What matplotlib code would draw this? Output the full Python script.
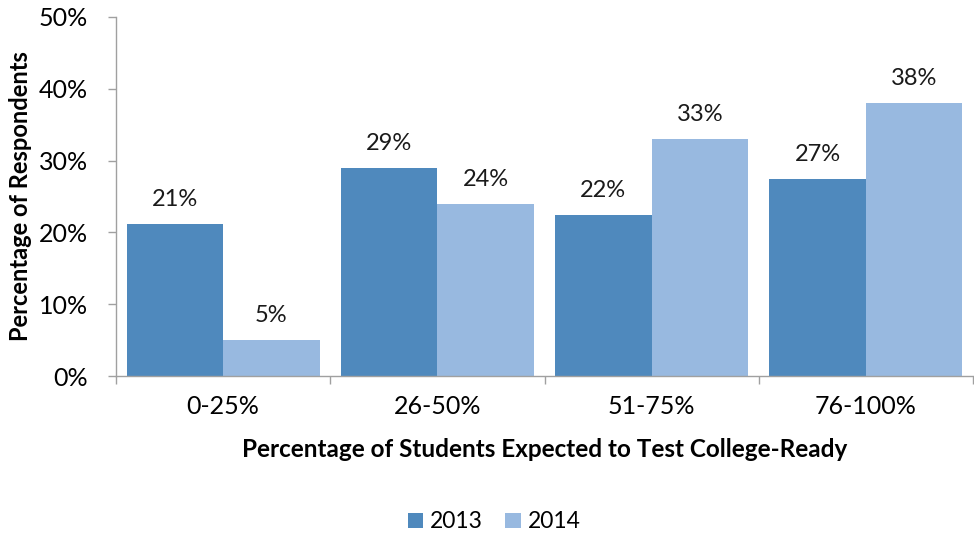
import matplotlib
matplotlib.use("Agg")
import matplotlib.pyplot as plt
import numpy as np

categories = ["0-25%", "26-50%", "51-75%", "76-100%"]
values_2013 = [21.2, 29.0, 22.4, 27.4]
values_2014 = [5.0, 24.0, 33.0, 38.0]
labels_2013 = ["21%", "29%", "22%", "27%"]
labels_2014 = ["5%", "24%", "33%", "38%"]
yticks = [0, 10, 20, 30, 40, 50]

plt.rcParams['font.family'] = ['Lato', 'DejaVu Sans']

c13 = "#4F89BD"
c14 = "#98B9E0"

fig = plt.figure(figsize=(9.74, 5.35), dpi=100)
ax = fig.add_axes([116/974, 1-376/535, (973-116)/974, (376-17)/535])

x = np.arange(len(categories))
w = 0.45
b1 = ax.bar(x - w/2, values_2013, width=w, color=c13, label="2013")
b2 = ax.bar(x + w/2, values_2014, width=w, color=c14, label="2014")

for bars, labs in ((b1, labels_2013), (b2, labels_2014)):
    for r, t in zip(bars, labs):
        ax.annotate(t, (r.get_x() + r.get_width()/2, r.get_height()),
                    xytext=(0, 10), textcoords="offset points",
                    ha="center", va="bottom", fontsize=17, color="#1a1a1a")

ax.set_xlim(-0.5, len(categories) - 0.5)
ax.set_ylim(0, 50)
ax.set_yticks(yticks)
ax.set_yticklabels([f"{v}%" for v in yticks], fontsize=18)
ax.set_xticks(x)
ax.set_xticklabels(categories, fontsize=18)
ax.set_xticks(np.arange(len(categories) + 1) - 0.5, minor=True)
ax.tick_params(axis="x", which="major", length=0, pad=14)
ax.tick_params(axis="x", which="minor", length=6, color="#A0A0A0", width=1)
ax.tick_params(axis="y", length=6, color="#A0A0A0", width=1, pad=14)

for s in ("top", "right"):
    ax.spines[s].set_visible(False)
for s in ("left", "bottom"):
    ax.spines[s].set_color("#A0A0A0")
    ax.spines[s].set_linewidth(1)

ax.set_ylabel("Percentage of Respondents", fontsize=17, fontweight="bold", labelpad=5)
ax.set_xlabel("Percentage of Students Expected to Test College-Ready", fontsize=17.5,
              fontweight="bold", labelpad=14)

fig.legend(handles=[b1, b2], labels=["2013", "2014"], loc="center",
           bbox_to_anchor=(494/974, 1-522/535), ncol=2, frameon=False,
           fontsize=16.5, handlelength=0.66, handleheight=0.66, handletextpad=0.3,
           columnspacing=1.0)

fig.savefig("out.png", dpi=100)
